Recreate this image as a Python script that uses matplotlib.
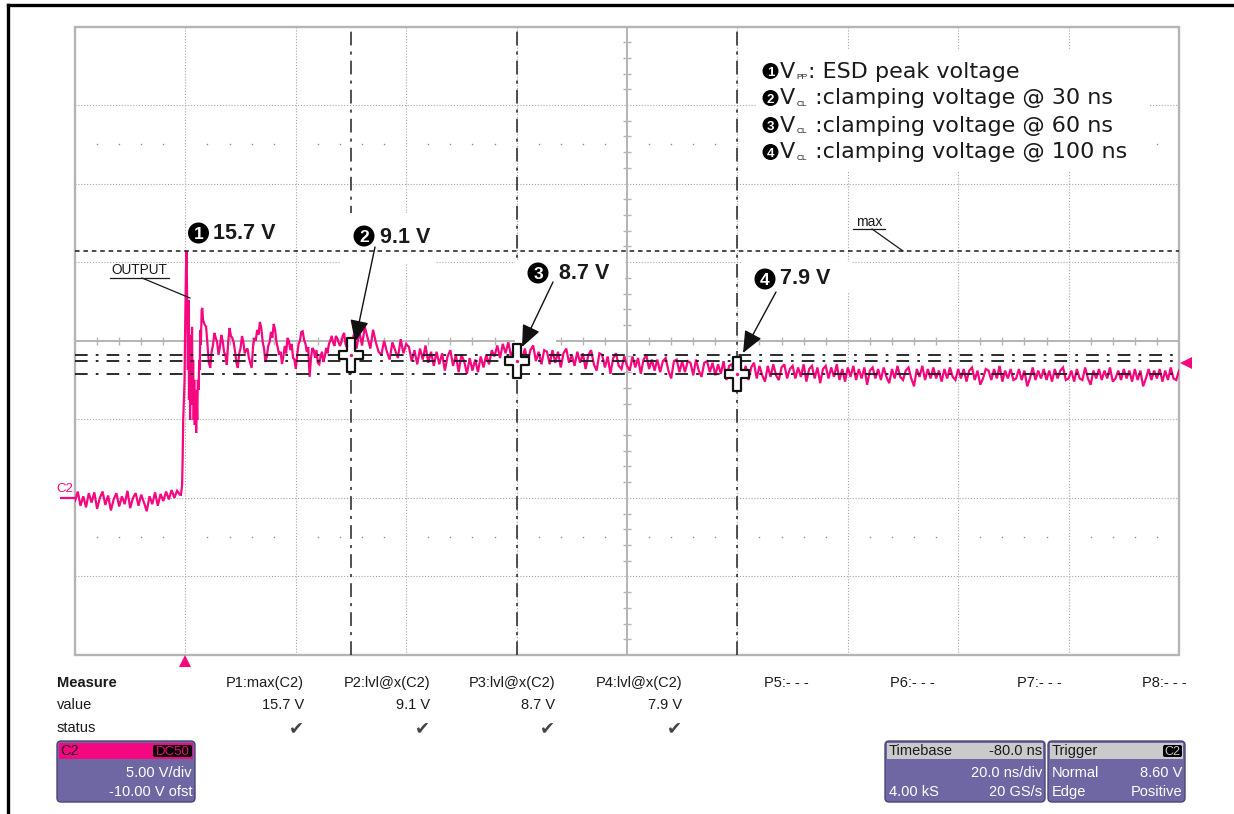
import numpy as np
import matplotlib
matplotlib.use("Agg")
import matplotlib.pyplot as plt
from matplotlib.path import Path
from matplotlib.patches import Rectangle, FancyBboxPatch, Circle, FancyArrowPatch
from matplotlib.lines import Line2D
from matplotlib.transforms import IdentityTransform

plt.rcParams['font.family'] = ['Liberation Sans', 'DejaVu Sans']

# ---------------- data (time in ns, level in V) ----------------
base_start, base_step = -20.0, 0.5
v_base = [-0.2, 0.4, -0.5, 0.1, -0.6, 0.3, -0.3, 0.35, -0.7, 0.0, 0.4, -0.45, 0.15,
          -0.8, -0.1, 0.3, -0.55, 0.1, -0.4, 0.45, -0.65, 0.0, 0.3, -0.5, 0.2, -0.3,
          -0.85, 0.1, -0.4, 0.35, -0.5, 0.25, -0.2, 0.4, -0.1, 0.5, 0.0, 0.45, 0.2]

t_edge = [-0.8, -0.6, -0.5, -0.4, -0.25, -0.15, -0.05, 0.1, 0.2, 0.3, 0.45, 0.55, 0.65,
          0.75, 0.85, 0.95, 1.05, 1.2, 1.3, 1.4, 1.5, 1.6, 1.7, 1.85, 1.95, 2.05, 2.15,
          2.25, 2.4, 2.5, 2.6, 2.7, 2.8, 2.95, 3.05, 3.2]
v_edge = [0.19, 0.83, 2.42, 4.96, 6.55, 7.51, 10.69, 14.5, 15.7, 13.23, 8.14, 12.6, 6.23,
          9.73, 4.96, 10.37, 6.55, 10.88, 5.92, 8.78, 4.96, 7.51, 4.64, 6.87, 4.13, 6.23,
          4.96, 7.51, 6.87, 8.78, 8.14, 10.69, 9.73, 11.96, 12.09, 11.32]

# ringing, 3.5 ns .. 30 ns, every 0.25 ns
ring1_start, ring1_step = 3.5, 0.25
v_ring1 = [
    11.01, 10.9, 9.73, 8.6, 8.27, 9.3, 9.73, 10.5, 10.18, 9.9, 9.10, 9.6, 10.37, 10.0,
    9.29, 9.1, 8.46, 9.9, 10.81, 10.3, 10.18, 9.9, 9.29, 8.6, 8.27, 9.2, 9.54, 10.3,
    9.92, 9.2, 9.41, 9.5, 8.91, 8.6, 8.27, 9.6, 10.18, 10.0, 10.69, 10.4, 11.20, 10.8,
    9.92, 9.5, 8.65, 9.0, 9.67, 9.9, 10.56, 10.2, 11.07, 10.7, 9.92, 9.5, 9.10, 9.3,
    8.52, 9.0, 9.67, 9.2, 10.18, 10.0, 9.41, 9.8, 8.91, 8.8, 8.21, 9.1, 9.80, 10.0,
    10.56, 10.6, 10.05, 9.8, 9.29, 9.6, 7.70, 8.9, 9.54, 9.4, 8.91, 9.4, 8.59, 8.5,
    9.03, 9.3, 8.65, 9.0, 9.54, 9.2, 9.80, 10.0, 10.31, 9.9, 9.67, 10.3, 10.18, 9.9,
    9.67, 9.9, 10.31, 10.5, 9.80, 9.6, 10.18, 9.9, 9.1,
]

# settling, 30.5 ns .. 180 ns, every 0.5 ns
ring2_start, ring2_step = 30.5, 0.5
v_ring2 = [
    10.4, 9.5, 10.6, 9.7, 10.9, 10.2, 9.5, 10.7, 9.9, 9.3,
    9.1, 10.0, 9.3, 8.8, 9.9, 9.4, 8.9, 10.1, 9.2, 9.8,
    9.6, 8.7, 9.4, 8.5, 9.5, 8.8, 9.7, 8.6, 9.3, 8.4,
    9.3, 8.5, 9.2, 8.1, 9.0, 9.4, 8.4, 9.1, 8.0, 9.1,
    8.7, 7.9, 8.9, 8.1, 8.8, 8.0, 9.0, 8.3, 9.1, 8.5,
    9.4, 9.0, 9.7, 8.9, 9.8, 9.2, 9.9, 9.0, 9.5, 8.7,
    9.6, 8.8, 9.5, 8.6, 9.4, 9.7, 8.7, 9.3, 8.5, 9.4,
    9.3, 8.5, 9.4, 8.6, 9.3, 8.3, 9.2, 9.5, 8.6, 9.1,
    8.4, 9.3, 8.6, 9.2, 8.2, 9.1, 9.4, 8.5, 8.1, 9.2,
    9.1, 8.3, 9.0, 7.9, 8.9, 9.2, 8.4, 8.2, 9.0, 8.4,
    8.1, 9.0, 8.3, 8.9, 7.9, 8.8, 9.1, 8.2, 8.8, 8.1,
    8.8, 8.0, 8.7, 8.9, 8.1, 7.6, 8.7, 8.8, 8.0, 8.7,
    8.0, 8.7, 8.6, 7.8, 8.8, 8.1, 7.7, 8.6, 8.7, 8.0,
    8.6, 7.8, 8.5, 7.9, 8.7, 7.5, 8.4, 8.5, 7.8, 7.9,
    8.5, 7.7, 8.4, 7.5, 8.3, 8.6, 7.6, 8.4, 7.8, 7.4,
    8.4, 7.7, 8.5, 7.8, 7.5, 8.3, 8.5, 7.6, 8.2, 8.4,
    7.6, 8.3, 7.7, 8.5, 7.4, 8.2, 8.4, 7.6, 8.3, 7.3,
    8.2, 8.4, 7.6, 8.3, 7.7, 8.5, 7.5, 8.2, 7.4, 8.3,
    7.7, 8.4, 7.5, 8.2, 7.6, 8.3, 7.2, 8.1, 8.3, 7.6,
    8.2, 7.5, 8.3, 7.7, 7.3, 8.2, 7.6, 8.4, 7.7, 7.5,
    8.1, 8.3, 7.6, 7.1, 8.2, 7.7, 8.4, 7.5, 8.2, 7.6,
    8.3, 7.6, 8.1, 7.4, 8.2, 7.6, 8.3, 7.7, 7.5, 8.2,
    7.6, 8.2, 7.4, 8.1, 8.3, 7.5, 8.1, 7.2, 7.6, 8.2,
    8.1, 7.5, 8.2, 7.6, 8.4, 7.4, 8.1, 7.6, 8.2, 7.5,
    7.6, 8.2, 7.5, 8.1, 7.1, 7.6, 8.3, 7.5, 8.1, 7.6,
    8.2, 7.5, 8.1, 7.4, 8.2, 7.6, 8.1, 8.3, 7.5, 7.6,
    8.1, 7.4, 8.2, 7.6, 7.5, 8.3, 7.6, 7.2, 8.1, 7.6,
    8.2, 7.5, 8.1, 7.6, 8.3, 7.4, 7.6, 8.1, 7.5, 8.2,
    7.6, 8.1, 7.4, 8.2, 7.5, 8.1, 7.1, 7.6, 8.2, 7.5,
    8.1, 7.6, 8.2, 7.4, 8.1, 7.5, 8.3, 7.6, 7.5, 8.1,
]

max_v = 15.7
cursor_t = [30, 60, 100]
cursor_v = [9.1, 8.7, 7.9]
trigger_t, trigger_v = 0.0, 8.60

measure_names = ['P1:max(C2)', 'P2:lvl@x(C2)', 'P3:lvl@x(C2)', 'P4:lvl@x(C2)',
                 'P5:- - -', 'P6:- - -', 'P7:- - -', 'P8:- - -']
measure_values = ['15.7 V', '9.1 V', '8.7 V', '7.9 V', '', '', '', '']
measure_status = [True, True, True, True, False, False, False, False]

legend_lines = [('1', 'PP', ': ESD peak voltage'),
                ('2', 'CL', ' :clamping voltage @ 30 ns'),
                ('3', 'CL', ' :clamping voltage @ 60 ns'),
                ('4', 'CL', ' :clamping voltage @ 100 ns')]

# ---------------- figure ----------------
W, H = 1234, 814
PINK = '#f5077f'
INK = '#1a1a1a'
GRID = '#a4a4a4'
SOLID = '#b4b4b4'
PURPLE = '#6e67a3'
ID = IdentityTransform()

fig = plt.figure(figsize=(W / 100, H / 100), dpi=100)
fig.patch.set_facecolor('white')


def P(x, y):
    return (x, H - y)


def ptext(x, y, s, **kw):
    kw.setdefault('color', INK)
    return fig.text(x / W, 1 - y / H, s, **kw)


def pline(xs, ys, **kw):
    fig.add_artist(Line2D(xs, [H - y for y in ys], transform=ID, **kw))


# outer frame
pline([8, 8], [5, 814], color='black', lw=2.4)
pline([8, 1234], [5, 5], color='black', lw=2.4)

ax = fig.add_axes([75 / W, 1 - 655 / H, 1104 / W, 628.5 / H])
ax.axis('off')
ax.set_xlim(-20, 180)
ax.set_ylim(-10, 30)

# grid
for t in [0, 20, 40, 60, 100, 120, 140, 160]:
    ax.axvline(t, color=GRID, lw=0.8, ls=(0, (1, 1.6)), zorder=1)
for v in [-5, 0, 5, 15, 20, 25]:
    ax.axhline(v, color=GRID, lw=0.8, ls=(0, (1, 1.6)), zorder=1)
ax.axvline(80, color=SOLID, lw=1.4, zorder=1)
ax.axhline(10, color=SOLID, lw=1.4, zorder=1)
tick_t = [t for t in range(-16, 180, 4) if t % 20 != 0]
tick_v = [v for v in range(-9, 30) if v % 5 != 0]
ax.plot(tick_t, [10] * len(tick_t), ls='none', marker='|', ms=6, mew=1.0, color=SOLID, zorder=1)
ax.plot([80] * len(tick_v), tick_v, ls='none', marker='_', ms=6, mew=1.0, color=SOLID, zorder=1)
for vv in [22.5, -2.5]:
    ax.plot(tick_t, [vv] * len(tick_t), ls='none', marker='s', ms=1.0, mew=0, color='#8c8c8c', zorder=1)
ax.add_patch(Rectangle((-20, -10), 200, 40, fill=False, ec=SOLID, lw=1.7, zorder=1, clip_on=False))

# cursor verticals
for t in cursor_t:
    ax.axvline(t, color='#222222', lw=1.1, ls=(0, (9, 4, 2, 4)), zorder=1.5)

# white backgrounds of pasted annotations
boxes = [(340, 213, 436, 264), (346, 262, 380, 338),
         (515, 261, 625, 290), (515, 288, 556, 346),
         (742, 262, 852, 293),
         (757, 50, 1150, 172)]
for x0, y0, x1, y1 in boxes:
    ax.add_patch(Rectangle((x0, H - y1), x1 - x0, y1 - y0, transform=ID,
                           fc='white', ec='none', zorder=2))

# trace
t_base = base_start + base_step * np.arange(len(v_base))
t_ring1 = ring1_start + ring1_step * np.arange(len(v_ring1))
t_ring2 = ring2_start + ring2_step * np.arange(len(v_ring2))
t_all = np.concatenate([t_base, t_edge, t_ring1, t_ring2])
v_all = np.concatenate([v_base, v_edge, v_ring1, v_ring2])
ax.plot(t_all, v_all, color=PINK, lw=1.6, zorder=3, solid_joinstyle='miter')

# measurement levels
for v in cursor_v:
    ax.axhline(v, color=INK, lw=1.3, ls=(0, (7, 4.5, 1.5, 4.5)), zorder=4)
ax.axhline(max_v, color=INK, lw=1.1, ls=(0, (3, 2.5)), zorder=4)

# cursor crosses
a, w, h = 3.6, 12, 17
cross = Path([(-a, h), (a, h), (a, a), (w, a), (w, -a), (a, -a), (a, -h), (-a, -h),
              (-a, -a), (-w, -a), (-w, a), (-a, a), (-a, h)],
             [Path.MOVETO] + [Path.LINETO] * 11 + [Path.CLOSEPOLY])
ax.plot(cursor_t, cursor_v, ls='none', marker=cross, ms=24.5, mfc='white', mec='#111111',
        mew=1.6, zorder=6)
ax.plot(cursor_t, cursor_v, ls='none', marker='o', ms=2.4, color=PINK, mew=0, zorder=7)

# trigger markers
ax.plot([trigger_t], [-10.4], marker='^', ms=9, color=PINK, mew=0, clip_on=False, zorder=7)
ax.plot([181.27], [trigger_v], marker='<', ms=9, color=PINK, mew=0, clip_on=False, zorder=7)
ax.plot([-22.5, -20], [0, 0], color=PINK, lw=1.6, clip_on=False, zorder=7)
ptext(56, 492, 'C2', color=PINK, fontsize=9.5)

# OUTPUT and max labels
ptext(111, 274, 'OUTPUT', fontsize=9.8)
pline([110, 169], [278, 278], color=INK, lw=0.9)
pline([142, 190], [278, 298], color=INK, lw=0.9)
ptext(856, 226, 'max', fontsize=10)
pline([853, 885], [229, 229], color=INK, lw=0.9)
pline([872, 903], [229, 251], color=INK, lw=0.9)


def badge(cx, cy, r, digit, fs):
    fig.add_artist(Circle(P(cx, cy), r, transform=ID, fc='black', ec='none'))
    em = fs * 100 / 72
    ptext(cx, cy + 0.358 * em, digit, color='white', fontsize=fs, fontweight='bold',
          ha='center', va='baseline')


# big labels
big = [(198.5, 233, '1', 213, 239, '15.7 V'),
       (364, 236, '2', 380, 243, '9.1 V'),
       (538, 273, '3', 559, 279, '8.7 V'),
       (765, 279, '4', 780, 284, '7.9 V')]
for cx, cy, d, tx, ty, s in big:
    badge(cx, cy, 10.5, d, 12.5)
    ptext(tx, ty, s, fontsize=15.5, fontweight='bold', va='baseline')

# arrows
arrows = [((375, 247), (355, 342)), ((553, 282), (522, 347)), ((776, 292), (743, 353))]
for (x0, y0), (x1, y1) in arrows:
    fig.add_artist(FancyArrowPatch(P(x0, y0), P(x1, y1), transform=ID,
                                   arrowstyle='-|>,head_length=0.75,head_width=0.32',
                                   mutation_scale=18, color='#111111', lw=1.0,
                                   shrinkA=0, shrinkB=0))

# legend
for i, (d, sub, rest) in enumerate(legend_lines):
    cy = 71 + 27 * i
    bl = 77.5 + 27 * i
    badge(770.5, cy, 8.0, d, 9.5)
    ptext(780, bl, 'V', fontsize=16, va='baseline', family='DejaVu Sans')
    ptext(796.5, bl + 1.5, sub, fontsize=6, va='baseline')
    ptext(808, bl, rest, fontsize=16, va='baseline', family='DejaVu Sans')

# measurement table
ptext(57, 687, 'Measure', fontsize=10.5, fontweight='bold', va='baseline')
ptext(57, 709, 'value', fontsize=10.5, va='baseline')
ptext(57, 732, 'status', fontsize=10.5, va='baseline')
col_right = [304, 430, 555, 682, 809, 935, 1062, 1187]
for xr, name, val, st in zip(col_right, measure_names, measure_values, measure_status):
    ptext(xr, 687, name, fontsize=10.5, ha='right', va='baseline')
    if val:
        ptext(xr, 709, val, fontsize=10.5, ha='right', va='baseline')
    if st:
        ptext(xr - 8, 733, '\u2714', fontsize=13, ha='center', va='baseline', color='#444444',
              family='DejaVu Sans')


def panel(x0, x1, header):
    y0, y1 = 741, 802
    fig.add_artist(FancyBboxPatch(P(x0, y1), x1 - x0, y1 - y0, transform=ID,
                                  boxstyle='round,pad=0,rounding_size=4',
                                  fc=PURPLE, ec='#4a4577', lw=1.0))
    fig.add_artist(Rectangle(P(x0 + 2, 759), x1 - x0 - 4, 16, transform=ID, fc=header, ec='none'))


panel(57, 195, PINK)
fig.add_artist(FancyBboxPatch(P(153, 757), 39, 12, transform=ID,
                              boxstyle='round,pad=0,rounding_size=2', fc='black', ec='none'))
ptext(60, 755, 'C2', fontsize=10.5, color='#1e1e1e', va='baseline')
ptext(172.5, 755, 'DC50', fontsize=9.5, color=PINK, ha='center', va='baseline')
ptext(192, 777, '5.00 V/div', fontsize=10.5, color='white', ha='right', va='baseline')
ptext(192, 796, '-10.00 V ofst', fontsize=10.5, color='white', ha='right', va='baseline')

panel(885, 1045, '#cacaca')
ptext(889, 755, 'Timebase', fontsize=10.5, va='baseline')
ptext(1042, 755, '-80.0 ns', fontsize=10.5, ha='right', va='baseline')
ptext(1042, 777, '20.0 ns/div', fontsize=10.5, color='white', ha='right', va='baseline')
ptext(889, 796, '4.00 kS', fontsize=10.5, color='white', va='baseline')
ptext(1042, 796, '20 GS/s', fontsize=10.5, color='white', ha='right', va='baseline')

panel(1048, 1185, '#cacaca')
ptext(1052, 755, 'Trigger', fontsize=10.5, va='baseline')
fig.add_artist(FancyBboxPatch(P(1163, 757), 19, 12, transform=ID,
                              boxstyle='round,pad=0,rounding_size=2', fc='black', ec='none'))
ptext(1172.5, 755, 'C2', fontsize=9, color='#c8c8c8', ha='center', va='baseline')
ptext(1052, 777, 'Normal', fontsize=10.5, color='white', va='baseline')
ptext(1182, 777, '8.60 V', fontsize=10.5, color='white', ha='right', va='baseline')
ptext(1052, 796, 'Edge', fontsize=10.5, color='white', va='baseline')
ptext(1182, 796, 'Positive', fontsize=10.5, color='white', ha='right', va='baseline')

ax.set_xlim(-20, 180)
ax.set_ylim(-10, 30)
fig.savefig('out.png', dpi=100)
